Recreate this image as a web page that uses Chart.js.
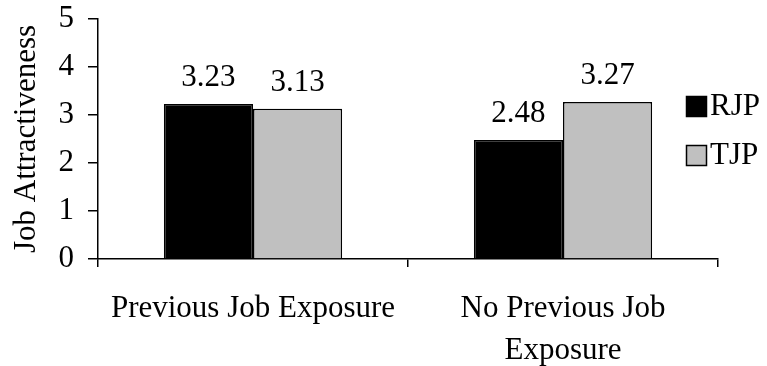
<!DOCTYPE html>
<html>
<head>
<meta charset="utf-8">
<script src="https://cdn.jsdelivr.net/npm/chart.js@4/dist/chart.umd.min.js"></script>
<style>
  html, body { margin: 0; padding: 0; background: #fff; }
  #wrap { width: 767px; height: 366px; }
</style>
</head>
<body>
<div id="wrap"><canvas id="attractChart" width="767" height="366"></canvas></div>
<script>
// categories and group means
var categories = ['Previous Job Exposure', ['No Previous Job', 'Exposure']];
var seriesNames = ['RJP', 'TJP'];
var rjpValues = [3.23, 2.48];
var tjpValues = [3.13, 3.27];
var yMin = 0, yMax = 5, yStep = 1;

var serif = '"Liberation Serif", "Times New Roman", serif';
var fontSize = 31;

// value printed above each bar
var barValues = {
    id: 'barValues',
    afterDatasetsDraw: function(chart) {
        var ctx = chart.ctx;
        ctx.save();
        ctx.font = fontSize + 'px ' + serif;
        ctx.fillStyle = '#000';
        ctx.textAlign = 'center';
        ctx.textBaseline = 'alphabetic';
        chart.data.datasets.forEach(function(ds, i) {
            chart.getDatasetMeta(i).data.forEach(function(bar, j) {
                ctx.fillText(ds.data[j].toFixed(2), bar.x, bar.y - 18);
            });
        });
        ctx.restore();
    }
};

// square swatch legend on the right
var sideLegend = {
    id: 'sideLegend',
    afterDraw: function(chart) {
        var ctx = chart.ctx;
        ctx.save();
        ctx.font = fontSize + 'px ' + serif;
        ctx.textBaseline = 'middle';
        chart.data.datasets.forEach(function(ds, i) {
            var top = 96 + i * 49;
            ctx.fillStyle = ds.backgroundColor;
            ctx.fillRect(686, top, 20, 20);
            ctx.strokeStyle = '#000';
            ctx.lineWidth = 1.5;
            ctx.strokeRect(686.5, top + 0.5, 20, 20);
            ctx.fillStyle = '#000';
            ctx.fillText(ds.label, 710, top + 11);
        });
        ctx.restore();
    }
};

var ctx = document.getElementById('attractChart').getContext('2d');
var attractChart = new Chart(ctx, {
    type: 'bar',
    data: {
        labels: categories,
        datasets: [{
            label: seriesNames[0],
            data: rjpValues,
            backgroundColor: '#000000',
            borderColor: '#000000',
            borderWidth: 1.5
        },
        {
            label: seriesNames[1],
            data: tjpValues,
            backgroundColor: '#c0c0c0',
            borderColor: '#000000',
            borderWidth: 1.5
        }]
    },
    options: {
        responsive: false,
        animation: false,
        categoryPercentage: 0.575,
        barPercentage: 1.0,
        layout: { padding: { top: 19, right: 49, left: 0, bottom: 0 } },
        plugins: {
            legend: { display: false },
            tooltip: { enabled: false }
        },
        scales: {
            x: {
                grid: {
                    offset: true,
                    drawOnChartArea: false,
                    drawTicks: true,
                    tickLength: 8,
                    color: '#000',
                    lineWidth: 1.5
                },
                border: { color: '#000', width: 1.5 },
                ticks: {
                    color: '#000',
                    font: { size: fontSize, family: serif, lineHeight: 1.35 },
                    padding: 21,
                    maxRotation: 0,
                    autoSkip: false
                },
                afterFit: function(scale) {
                    scale.height = 107;
                    scale.paddingLeft = 0;
                    scale.paddingRight = 0;
                }
            },
            y: {
                min: yMin,
                max: yMax,
                grid: {
                    drawOnChartArea: false,
                    drawTicks: true,
                    tickLength: 10,
                    color: '#000',
                    lineWidth: 1.5
                },
                border: { color: '#000', width: 1.5 },
                ticks: {
                    stepSize: yStep,
                    color: '#000',
                    font: { size: fontSize, family: serif },
                    padding: 14
                },
                title: {
                    display: true,
                    text: 'Job Attractiveness',
                    color: '#000',
                    font: { size: fontSize, family: serif },
                    padding: { top: 8, bottom: 0 }
                },
                afterFit: function(scale) {
                    scale.width = 98;
                    scale.paddingTop = 0;
                    scale.paddingBottom = 0;
                }
            }
        }
    },
    plugins: [barValues, sideLegend]
});
</script>
</body>
</html>
